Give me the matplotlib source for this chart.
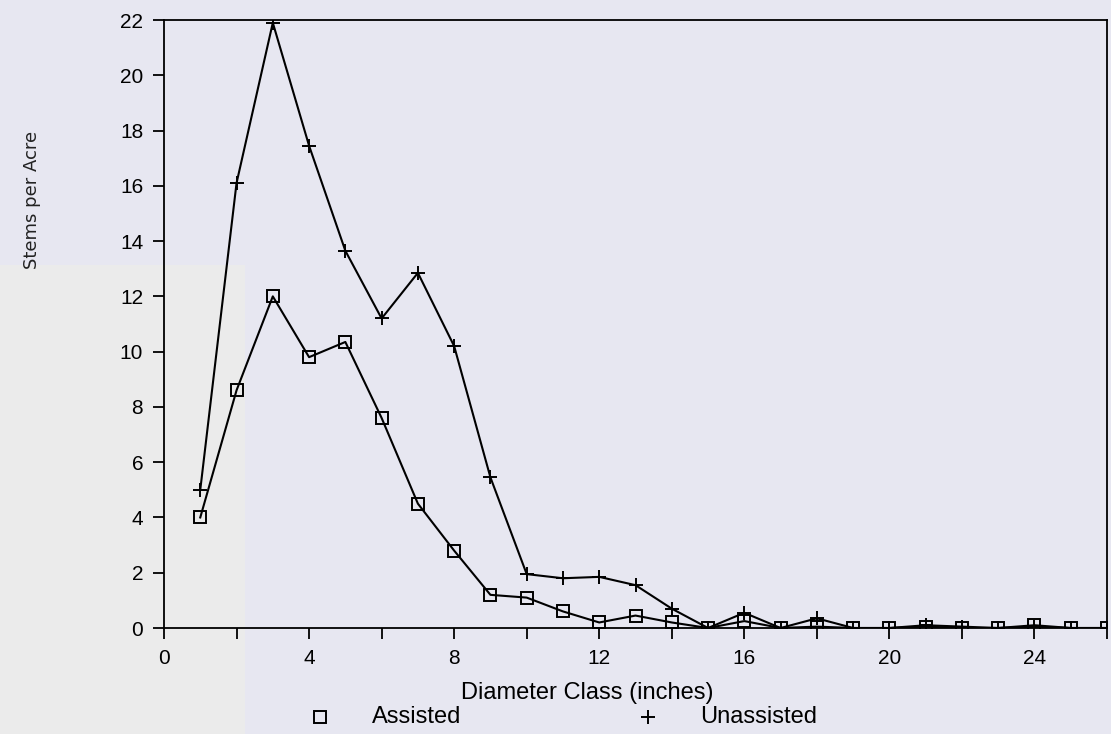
import matplotlib.pyplot as plt
from matplotlib.lines import Line2D
from matplotlib.patches import Rectangle

diameter = list(range(1, 27))
assisted = [4.0, 8.6, 12.0, 9.8, 10.35, 7.6, 4.5, 2.8, 1.2, 1.1, 0.6, 0.2, 0.45,
            0.2, 0.0, 0.25, 0.0, 0.05, 0.0, 0.0, 0.05, 0.0, 0.0, 0.1, 0.0, 0.0]
unassisted = [5.0, 16.1, 21.9, 17.45, 13.65, 11.2, 12.85, 10.2, 5.45, 1.95, 1.8, 1.85, 1.55,
              0.7, 0.0, 0.55, 0.0, 0.35, 0.0, 0.0, 0.1, 0.05, 0.0, 0.05, 0.0, 0.0]

bg = '#e7e7f1'
plt.rcParams['font.family'] = ['Liberation Sans', 'DejaVu Sans']

fig = plt.figure(figsize=(11.11, 7.34), dpi=100, facecolor=bg)
# lighter scanned strip at lower left
fig.patches.append(Rectangle((0, 0), 245 / 1111, 1 - 265 / 734, transform=fig.transFigure,
                             facecolor='#ebebeb', edgecolor='none', zorder=-1))
ax = fig.add_axes([164 / 1111, 1 - 628 / 734, (1107 - 164) / 1111, (628 - 20) / 734])
ax.set_facecolor('none')

ax.plot(diameter, assisted, color='black', lw=1.5, marker='s', markersize=8.5,
        markerfacecolor='none', markeredgewidth=1.4)
ax.plot(diameter, unassisted, color='black', lw=1.5, marker='+', markersize=10,
        markeredgewidth=1.4)

ax.set_xlim(0, 26)
ax.set_ylim(0, 22)
ax.set_xticks(range(0, 27, 2))
ax.set_xticklabels([str(v) if v % 4 == 0 else '' for v in range(0, 27, 2)])
ax.set_yticks(range(0, 23, 2))
ax.tick_params(direction='out', length=8, width=1.3, labelsize=15, pad=7, colors='black')
for s in ax.spines.values():
    s.set_linewidth(1.3)

fig.text(587 / 1111, 1 - 693 / 734, 'Diameter Class (inches)', ha='center', va='center',
         fontsize=17)
fig.text(32 / 1111, 1 - 200 / 734, 'Stems per Acre', rotation=90, ha='center', va='center',
         fontsize=13, family='DejaVu Sans', color='#222222')

# legend row under the axis title
leg_y = 1 - 717 / 734
fig.add_artist(Line2D([320 / 1111], [leg_y], transform=fig.transFigure, ls='none',
                      marker='s', markersize=9, markerfacecolor='none',
                      markeredgecolor='black', markeredgewidth=1.4))
fig.text(372 / 1111, leg_y, 'Assisted', ha='left', va='center', fontsize=17)
fig.add_artist(Line2D([648 / 1111], [leg_y], transform=fig.transFigure, ls='none',
                      marker='+', markersize=10, color='black', markeredgewidth=1.4))
fig.text(700 / 1111, leg_y, 'Unassisted', ha='left', va='center', fontsize=17)

fig.savefig('out.png', dpi=100, facecolor=bg)
